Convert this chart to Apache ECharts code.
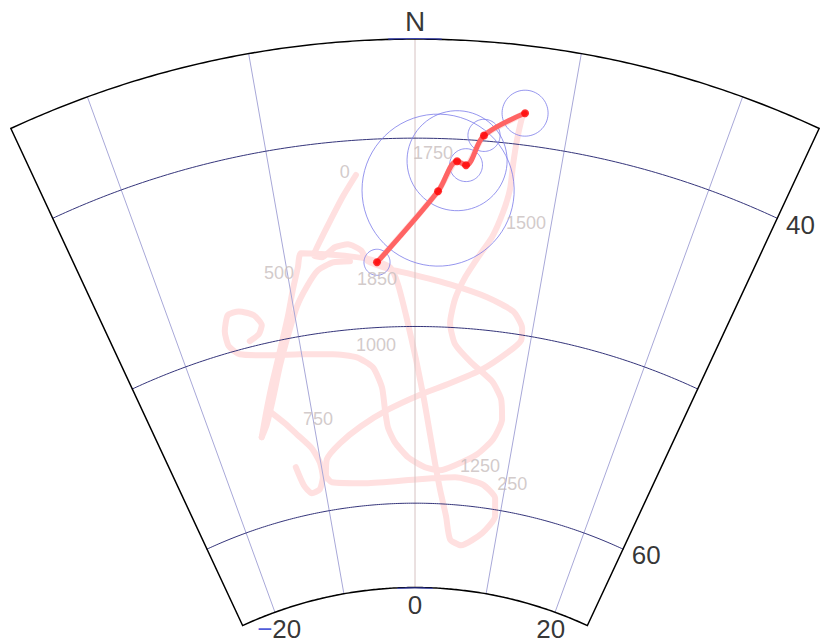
<!DOCTYPE html>
<html><head><meta charset="utf-8">
<script src="https://cdn.jsdelivr.net/npm/echarts@6/dist/echarts.min.js"></script>
<style>html,body{margin:0;padding:0;background:#fff}#c{width:821px;height:644px}</style>
</head><body><div id="c"></div>
<script>
// ---- axis ticks / extents ----
const decRange = [-25, 25];
const incRange = [35, 65];
const decGrid = [-20, -10, 0, 10, 20];
const incGrid = [40, 50, 60];
const decLabels = [-20, 0, 20];
const incLabels = [40, 60];

// ---- secular variation curve (declination, inclination); null = break between strokes ----
const curveDec = [
  -4.11, -5.14, -6.26, -7.17, -7.76, -7.17, -6.10, -5.09, -4.14, -3.66,
  -1.97, -0.55, 2.81, 5.88, 8.14, 9.10, 9.18, 8.22, 6.10, 3.27, 0.38, -2.74, -5.41, -7.72, -9.31, -9.69, -9.17,
  -5.46, 0.44, 4.41, 7.46, 9.13, 9.46, 8.23, 5.82, 4.38, 3.69, 2.82, 2.15, 1.53, 0.86, 0.09, -0.68, -1.37,
  -1.96, -3.49, -5.02, -6.92, -8.72, -9.12, -9.79, -10.58, -11.82, -13.15, -14.36, -15.31,
  null,
  -15.31, -14.51, -13.38, -12.10, -11.02, -9.70, -8.65, -7.61, -6.37, -5.05,
  null,
  -13.92, -12.78, -11.78, -10.65, -10.09, -10.05, -10.61, -11.57, -12.26, -12.68,
  null,
  -14.14, -13.26, -12.85, -13.30, -14.41, -15.36, -15.95, -15.97, -15.25, -13.00, -10.16, -7.28, -5.19,
  -3.82, -3.10, -2.93, -2.72, -2.07, -0.74, 1.08, 2.72, 4.31, 6.53, 7.97, 8.57, 8.20, 7.14, 5.05, 3.51,
  2.98, 3.28, 3.98, 4.87, 5.79, 6.40, 6.71, 6.72, 6.79, 6.98,
  7.10, 4.58, 3.51, 2.88, 1.64, -2.96
];
const curveInc = [
  41.79, 42.84, 44.08, 45.07, 45.76, 45.93, 45.48, 45.39, 45.76, 46.38,
  46.87, 47.11, 47.66, 48.20, 48.79, 49.62, 50.29, 51.05, 52.18, 53.10, 53.82, 54.63, 55.43, 56.26, 57.05, 57.95, 58.40,
  58.71, 58.61, 58.41, 58.65, 59.35, 60.38, 61.47, 62.32, 62.03, 60.70, 59.16, 57.67, 56.02, 54.05, 51.82, 49.60, 47.69,
  46.76, 46.28, 46.04, 45.79, 45.56, 46.28, 47.41, 48.80, 50.59, 52.30, 53.84, 55.03,
  null,
  55.03, 54.40, 53.12, 51.41, 50.02, 48.35, 47.37, 46.60, 46.27, 46.30,
  null,
  53.73, 54.58, 55.40, 56.29, 57.16, 58.03, 58.68, 58.82, 58.27, 57.16,
  null,
  49.68, 49.43, 48.99, 48.36, 47.96, 48.01, 48.81, 49.65, 50.24, 50.66, 50.97, 51.24, 51.56,
  52.19, 53.33, 54.57, 55.60, 56.47, 57.35, 57.92, 58.06, 57.72, 56.97, 56.01, 54.81, 53.70, 52.78, 51.85, 50.91,
  49.77, 48.45, 47.23, 46.10, 44.96, 43.59, 42.35, 41.04, 39.74, 38.45,
  38.39, 39.72, 41.31, 41.13, 42.73, 46.46
];

// ---- age labels ----
const ageText = ['0', '250', '500', '750', '1000', '1250', '1500', '1750', '1850'];
const ageDec = [-4.86, 10.73, -10.65, -9.54, -3.43, 6.99, 8.17, 1.22, -3.03];
const ageInc = [41.60, 58.38, 46.42, 54.73, 50.97, 57.64, 44.01, 40.76, 47.37];

// ---- observed directions with alpha95 ----
const obsDec = [-2.96, 1.64, 2.88, 3.51, 4.58, 7.10];
const obsInc = [46.46, 42.73, 41.13, 41.31, 39.72, 38.39];
const obsA95 = [0.70, 3.97, 2.58, 0.85, 0.82, 1.16];

const D2R = Math.PI / 180;
const tr = inc => Math.tan((90 - inc) / 2 * D2R);   // stereographic radius
const P = (dec, inc) => [tr(inc), dec];

function arc(inc, d0, d1, step) {
  const out = [];
  const n = Math.max(1, Math.round(Math.abs(d1 - d0) / step));
  for (let i = 0; i <= n; i++) out.push(P(d0 + (d1 - d0) * i / n, inc));
  return out;
}
function smallCircle(dec0, inc0, a) {
  const out = [];
  const la0 = inc0 * D2R, lo0 = dec0 * D2R, al = a * D2R;
  for (let k = 0; k <= 72; k++) {
    const b = k * 5 * D2R;
    const la = Math.asin(Math.sin(la0) * Math.cos(al) + Math.cos(la0) * Math.sin(al) * Math.cos(b));
    const lo = lo0 + Math.atan2(Math.sin(b) * Math.sin(al) * Math.cos(la0), Math.cos(al) - Math.sin(la0) * Math.sin(la));
    out.push(P(lo / D2R, la / D2R));
  }
  return out;
}

const FONT = 'Liberation Sans, Arial, sans-serif';
const base = { coordinateSystem: 'polar', silent: true, animation: false };
const series = [];

// meridians
decGrid.forEach(d => series.push(Object.assign({}, base, {
  type: 'line', symbol: 'none', z: 3,
  data: [P(d, incRange[1]), P(d, incRange[0])],
  lineStyle: { color: d === 0 ? '#d6c2c2' : '#a8a8d8', width: 1 }
})));
// parallels
incGrid.forEach(I => series.push(Object.assign({}, base, {
  type: 'line', symbol: 'none', z: 3,
  data: arc(I, decRange[0], decRange[1], 0.25),
  lineStyle: { color: '#34347a', width: 1 }
})));

// SV curve strokes (split at null)
let stroke = [];
const strokes = [stroke];
curveDec.forEach((d, i) => {
  if (d === null) { stroke = []; strokes.push(stroke); }
  else stroke.push(P(d, curveInc[i]));
});
strokes.forEach(s => series.push(Object.assign({}, base, {
  type: 'line', symbol: 'none', z: 2, smooth: 0.2,
  data: s,
  lineStyle: { color: '#ffe0e0', width: 6, cap: 'round', join: 'round' }
})));

// alpha95 circles
obsDec.forEach((d, i) => series.push(Object.assign({}, base, {
  type: 'line', symbol: 'none', z: 4,
  data: smallCircle(d, obsInc[i], obsA95[i]),
  lineStyle: { color: '#7b7bea', width: 0.8 }
})));

// observed path
series.push(Object.assign({}, base, {
  type: 'line', symbol: 'none', z: 5, smooth: 0.35,
  data: obsDec.map((d, i) => P(d, obsInc[i])),
  lineStyle: { color: '#ff6464', width: 5, cap: 'round' }
}));
series.push(Object.assign({}, base, {
  type: 'scatter', z: 6, symbol: 'circle', symbolSize: 8,
  data: obsDec.map((d, i) => P(d, obsInc[i])),
  itemStyle: { color: '#ff0000' }
}));

// age labels
series.push(Object.assign({}, base, {
  type: 'scatter', z: 7, symbolSize: 0,
  data: ageText.map((s, i) => ({ value: P(ageDec[i], ageInc[i]), name: s })),
  label: { show: true, position: 'inside', formatter: p => p.name, color: '#c7bdbd', fontSize: 18, fontFamily: FONT }
}));

// frame
const frame = [].concat(arc(incRange[0], decRange[0], decRange[1], 0.25),
  arc(incRange[1], decRange[1], decRange[0], 0.25), [P(decRange[0], incRange[0])]);
series.push(Object.assign({}, base, {
  type: 'line', symbol: 'none', z: 8, data: frame,
  lineStyle: { color: '#000', width: 3, join: 'miter' }
}));
// blue highlights on frame near north
series.push(Object.assign({}, base, {
  type: 'line', symbol: 'none', z: 9, data: arc(incRange[0], -1.6, 1.6, 0.2),
  lineStyle: { color: '#3a46d8', width: 1.6 }
}));
series.push(Object.assign({}, base, {
  type: 'line', symbol: 'none', z: 9, data: arc(incRange[1], -2.5, 2.5, 0.2),
  lineStyle: { color: '#3a46d8', width: 1.6 }
}));

// axis labels
series.push(Object.assign({}, base, {
  type: 'scatter', z: 10, symbolSize: 0,
  data: [{ value: P(0, incRange[0]), name: 'N' }],
  label: { show: true, position: 'top', distance: 3, formatter: p => p.name, color: '#000', fontSize: 28, fontFamily: FONT }
}));
series.push(Object.assign({}, base, {
  type: 'scatter', z: 10, symbolSize: 0,
  data: incLabels.map(I => ({ value: P(decRange[1], I), name: String(I) })),
  label: { show: true, position: 'right', distance: 8, offset: [0, 6], formatter: p => p.name, color: '#000', fontSize: 26, fontFamily: FONT }
}));
series.push(Object.assign({}, base, {
  type: 'scatter', z: 10, symbolSize: 0,
  data: decLabels.map(d => ({ value: P(d, incRange[1]), name: String(d),
    label: { offset: [d < 0 ? 4 : (d > 0 ? -4 : 0), d === 0 ? 0 : -1] } })),
  label: { show: true, position: 'bottom', distance: 4, color: '#000', fontSize: 26, fontFamily: FONT,
    formatter: p => p.name.charAt(0) === '-' ? '{m|\u2212}{n|' + p.name.slice(1) + '}' : '{n|' + p.name + '}',
    rich: { m: { color: '#1f2fd0', fontSize: 26, fontFamily: FONT }, n: { color: '#000', fontSize: 26, fontFamily: FONT } } }
}));

const chart = echarts.init(document.getElementById('c'), null, { renderer: 'svg' });
chart.setOption({
  backgroundColor: '#fff',
  animation: false,
  polar: { center: [415, 997], radius: [408.7, 958.7] },
  angleAxis: { type: 'value', min: decRange[0], max: decRange[1], startAngle: 115, endAngle: 65, clockwise: true, show: false },
  radiusAxis: { type: 'value', min: tr(incRange[1]), max: tr(incRange[0]), show: false },
  series: series
});
</script></body></html>
